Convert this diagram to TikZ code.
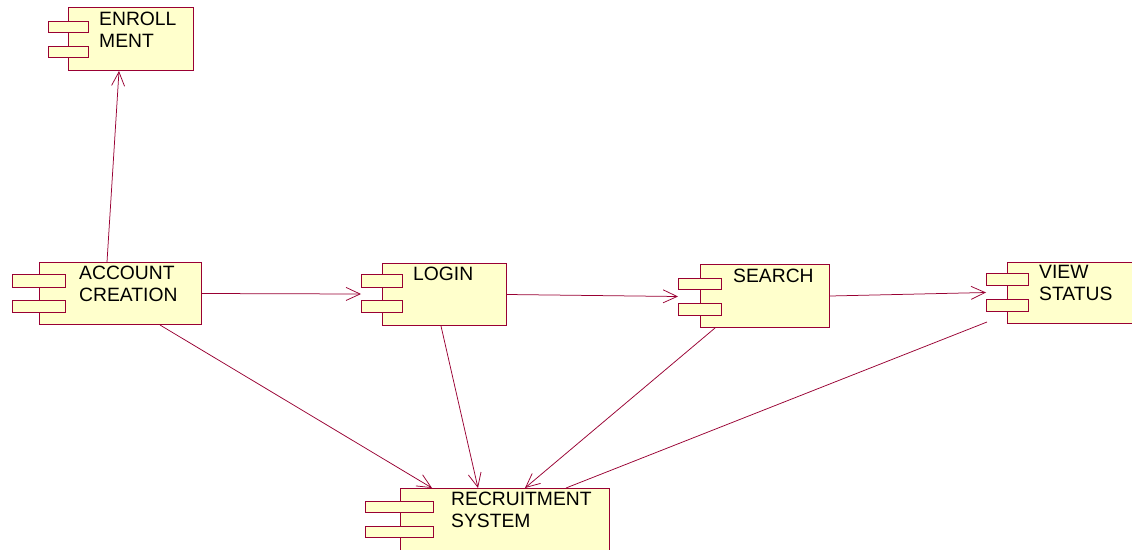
\documentclass[tikz,border=0pt]{standalone}
\usepackage{fontspec}
\setmainfont{Liberation Sans}
\usetikzlibrary{arrows.meta,calc}
\definecolor{rose}{RGB}{153,0,51}
\definecolor{compfill}{RGB}{255,255,204}
\begin{document}
\begin{tikzpicture}[x=1pt,y=-1pt,
  body/.style={draw=rose,fill=compfill,line width=1pt,inner sep=0pt,anchor=north west},
  pinbox/.style={draw=rose,fill=compfill,line width=1pt,inner sep=0pt,anchor=north west},
  lbl/.style={anchor=base west,inner sep=0pt,align=left,font=\fontsize{19.3}{22}\selectfont},
  dep/.style={draw=rose,line width=0.75pt,-{Straight Barb[length=14pt,width=13pt]}},
  assoc/.style={draw=rose,line width=0.75pt}]
\useasboundingbox (0,0) rectangle (1132,549);
\clip (0,0) rectangle (1132,549);
\fill[white] (0,0) rectangle (1132,549);

% ENROLLMENT
\node[body,minimum width=125pt,minimum height=63pt] (enroll) at (68,7) {};
\node[pinbox,minimum width=40pt,minimum height=11pt] (enroll-p1) at (48,21) {};
\node[pinbox,minimum width=40pt,minimum height=11pt] (enroll-p2) at (48,46) {};
\node[lbl] (enroll-t) at (99,47) {ENROLL\\MENT};

% ACCOUNT CREATION
\node[body,minimum width=162pt,minimum height=62pt] (acct) at (39,262) {};
\node[pinbox,minimum width=53pt,minimum height=13pt] (acct-p1) at (12,274) {};
\node[pinbox,minimum width=53pt,minimum height=12pt] (acct-p2) at (12,300) {};
\node[lbl] (acct-t) at (79,301) {ACCOUNT\\CREATION};

% LOGIN
\node[body,minimum width=124pt,minimum height=62pt] (login) at (382,263) {};
\node[pinbox,minimum width=41pt,minimum height=13pt] (login-p1) at (361,274) {};
\node[pinbox,minimum width=41pt,minimum height=12pt] (login-p2) at (361,300) {};
\node[lbl] (login-t) at (413,280) {LOGIN};

% SEARCH
\node[body,minimum width=129pt,minimum height=63pt] (search) at (700,264) {};
\node[pinbox,minimum width=43pt,minimum height=11pt] (search-p1) at (678,278) {};
\node[pinbox,minimum width=43pt,minimum height=12pt] (search-p2) at (678,303) {};
\node[lbl] (search-t) at (733,282) {SEARCH};

% VIEW STATUS
\node[body,minimum width=140pt,minimum height=61pt] (view) at (1007,262) {};
\node[pinbox,minimum width=42pt,minimum height=12pt] (view-p1) at (986,273) {};
\node[pinbox,minimum width=42pt,minimum height=12pt] (view-p2) at (986,299) {};
\node[lbl] (view-t) at (1039,300) {VIEW\\STATUS};

% RECRUITMENT SYSTEM
\node[body,minimum width=209pt,minimum height=80pt] (recruit) at (400,488) {};
\node[pinbox,minimum width=68pt,minimum height=11pt] (recruit-p1) at (365,501) {};
\node[pinbox,minimum width=68pt,minimum height=11pt] (recruit-p2) at (365,526) {};
\node[lbl] (recruit-t) at (451,527) {RECRUITMENT\\SYSTEM};

% connectors
\draw[dep] ([xshift=68pt]acct.north west) -- ([xshift=51pt]enroll.south west);
\draw[dep] (acct.east) -- ($(login-p1.south west)!.5!(login-p2.north west)$);
\draw[dep] (login.east) -- ($(search-p1.south west)!.5!(search-p2.north west)$);
\draw[dep] (search.east) -- ($(view-p1.south west)!.5!(view-p2.north west)$);
\draw[dep] ([xshift=121pt]acct.south west) -- ([xshift=32pt]recruit.north west);
\draw[dep] ([xshift=59pt]login.south west) -- ([xshift=78pt]recruit.north west);
\draw[dep] ([xshift=15pt]search.south west) -- ([xshift=125pt]recruit.north west);
\draw[assoc] ([xshift=-20pt,yshift=2pt]view.south west) -- ([xshift=166pt]recruit.north west);
\end{tikzpicture}
\end{document}
